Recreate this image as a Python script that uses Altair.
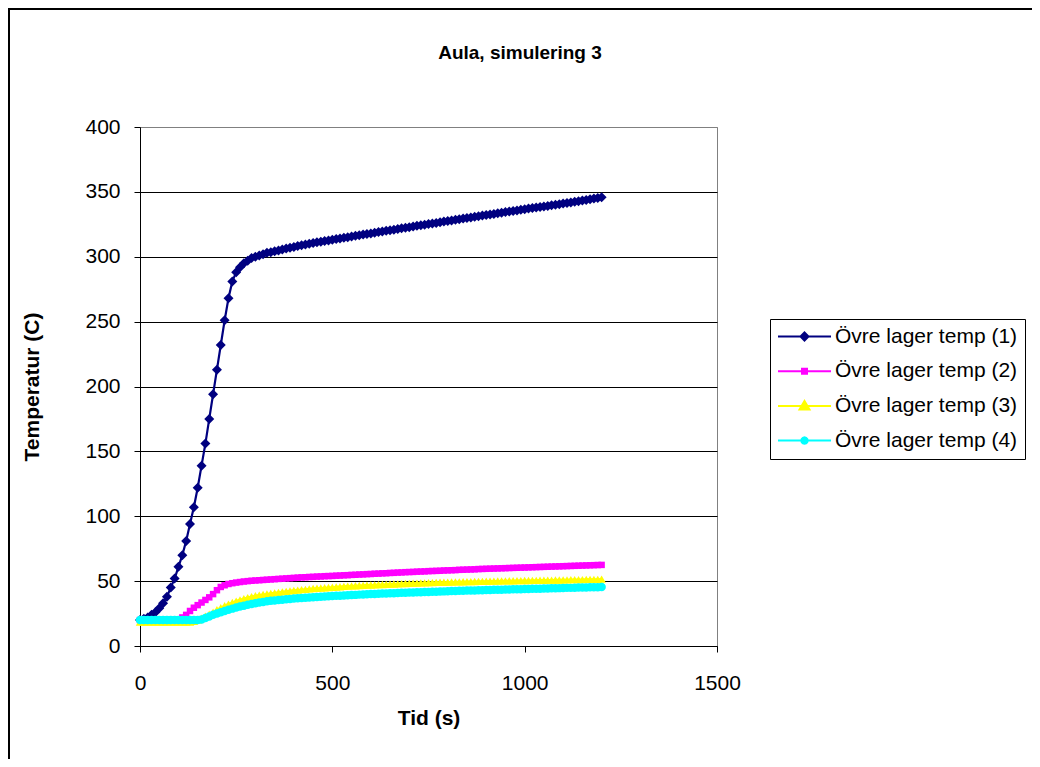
import math
import altair as alt
import pandas as pd

FONT = "Liberation Sans, Arial, Helvetica, sans-serif"

names = ["Övre lager temp (1)", "Övre lager temp (2)", "Övre lager temp (3)", "Övre lager temp (4)"]
colors = ["#000080", "#FF00FF", "#FFFF00", "#00FFFF"]
title_text = "Aula, simulering 3"

time_s = list(range(0, 1201, 10))

s1 = [20, 21, 22, 24, 26, 29, 33, 38, 45, 52,
      61, 70, 81, 94, 107, 122, 139, 156, 175, 194,
      213, 232, 251, 268, 281, 288, 292, 295, 297, 299,
      300, 301, 302, 303, 303.5, 304.2, 304.9, 305.6, 306.3, 307,
      307.6, 308.2, 308.8, 309.4, 310, 310.6, 311.1, 311.6, 312.1, 312.6,
      313.1, 313.6, 314.1, 314.6, 315.1, 315.6, 316.1, 316.6, 317.1, 317.5,
      318, 318.5, 319, 319.5, 320, 320.4, 320.9, 321.4, 321.9, 322.3,
      322.8, 323.3, 323.8, 324.2, 324.7, 325.2, 325.7, 326.1, 326.6, 327.1,
      327.5, 328, 328.5, 328.9, 329.4, 329.8, 330.3, 330.8, 331.2, 331.7,
      332.1, 332.6, 333, 333.5, 333.9, 334.4, 334.8, 335.3, 335.7, 336.2,
      336.6, 337.1, 337.5, 337.9, 338.4, 338.8, 339.2, 339.7, 340.1, 340.5,
      341, 341.4, 341.8, 342.3, 342.8, 343.3, 343.8, 344.3, 344.8, 345.3,
      345.8]

s2 = [20, 20, 20, 20, 20, 20, 20, 20, 20, 20,
      20.5, 22, 24, 27, 29.5, 31.5, 33.5, 35.5, 37.5, 40,
      43, 45.5, 46.8, 47.8, 48.4, 48.9, 49.3, 49.7, 50, 50.3,
      50.5, 50.7, 50.9, 51.1, 51.3, 51.5, 51.7, 51.9, 52.1, 52.3,
      52.5, 52.7, 52.9, 53, 53.2, 53.3, 53.5, 53.6, 53.8, 53.9,
      54, 54.2, 54.3, 54.5, 54.6, 54.8, 54.9, 55.1, 55.2, 55.4,
      55.5, 55.7, 55.8, 56, 56.1, 56.3, 56.4, 56.6, 56.7, 56.9,
      57, 57.1, 57.3, 57.4, 57.5, 57.7, 57.8, 57.9, 58, 58.2,
      58.3, 58.4, 58.5, 58.7, 58.8, 58.9, 59, 59.1, 59.3, 59.4,
      59.5, 59.6, 59.7, 59.8, 59.9, 60, 60.1, 60.2, 60.3, 60.4,
      60.5, 60.6, 60.7, 60.8, 60.9, 61, 61.1, 61.2, 61.3, 61.4,
      61.5, 61.6, 61.7, 61.8, 61.9, 62, 62.1, 62.2, 62.3, 62.4,
      62.5]

s3 = [18.5, 18.5, 18.5, 18.5, 18.5, 18.5, 18.5, 18.5, 18.5, 18.5,
      18.5, 18.5, 18.5, 18.5, 19, 20, 21.5, 23, 24.5, 26,
      28, 29.5, 31, 32.3, 33.5, 34.6, 35.6, 36.5, 37.3, 38,
      38.7, 39.2, 39.7, 40.1, 40.5, 40.9, 41.3, 41.7, 42.1, 42.5,
      42.8, 43.1, 43.4, 43.7, 44, 44.3, 44.5, 44.7, 44.9, 45.1,
      45.3, 45.5, 45.7, 45.9, 46.1, 46.3, 46.4, 46.6, 46.7, 46.9,
      47, 47.1, 47.3, 47.4, 47.5, 47.7, 47.8, 47.9, 48.1, 48.2,
      48.3, 48.4, 48.5, 48.6, 48.7, 48.8, 48.9, 49, 49.1, 49.1,
      49.2, 49.3, 49.4, 49.4, 49.5, 49.6, 49.6, 49.7, 49.8, 49.8,
      49.9, 50, 50, 50.1, 50.2, 50.2, 50.3, 50.3, 50.4, 50.4,
      50.5, 50.5, 50.6, 50.6, 50.7, 50.7, 50.8, 50.8, 50.9, 50.9,
      51, 51, 51.1, 51.1, 51.2, 51.2, 51.3, 51.3, 51.4, 51.4,
      51.5]

s4 = [20, 20, 20, 20, 20, 20, 20, 20, 20, 20,
      20, 20, 20, 20, 20, 20, 20.5, 21.5, 22.8, 24,
      25, 26, 27, 28, 28.8, 29.6, 30.4, 31.1, 31.8, 32.4,
      33, 33.5, 34, 34.4, 34.8, 35.1, 35.4, 35.7, 36, 36.3,
      36.6, 36.8, 37, 37.2, 37.4, 37.6, 37.8, 38, 38.2, 38.4,
      38.5, 38.7, 38.8, 39, 39.1, 39.3, 39.4, 39.6, 39.7, 39.9,
      40, 40.1, 40.2, 40.4, 40.5, 40.6, 40.7, 40.8, 41, 41.1,
      41.2, 41.3, 41.4, 41.5, 41.6, 41.7, 41.8, 41.9, 42, 42.1,
      42.2, 42.3, 42.4, 42.5, 42.6, 42.7, 42.7, 42.8, 42.9, 43,
      43.1, 43.2, 43.3, 43.3, 43.4, 43.5, 43.6, 43.7, 43.7, 43.8,
      43.9, 44, 44.1, 44.1, 44.2, 44.3, 44.4, 44.5, 44.5, 44.6,
      44.7, 44.8, 44.8, 44.9, 45, 45, 45.1, 45.2, 45.2, 45.3,
      45.4]

x_ticks = [0, 500, 1000, 1500]
y_ticks = [0, 50, 100, 150, 200, 250, 300, 350, 400]

series = [s1, s2, s3, s4]
rows = []
for name, vals in zip(names, series):
    for t, v in zip(time_s, vals):
        rows.append({"t": t, "temp": v, "serie": name})
df = pd.DataFrame(rows)

W, H = 577, 519

x_enc = alt.X("t:Q", scale=alt.Scale(domain=[0, 1500], nice=False, zero=False),
              axis=alt.Axis(values=x_ticks, title="Tid (s)", grid=False, format="d",
                            labelFlush=False, labelOverlap=False,
                            labelPadding=20, titlePadding=14, tickSize=6))
y_enc = alt.Y("temp:Q", scale=alt.Scale(domain=[0, 400], nice=False),
              axis=alt.Axis(values=y_ticks, title="Temperatur (C)", grid=True, format="d",
                            labelFlush=False, labelOverlap=False,
                            gridColor={"condition": {"test": "datum.value === 400", "value": "#808080"},
                                       "value": "#000000"},
                            labelPadding=14, titlePadding=42, tickSize=6))

# series lines (stroke channel, no legend)
lines = alt.Chart(df).mark_line(strokeWidth=2.2).encode(
    x=x_enc, y=y_enc,
    stroke=alt.Stroke("serie:N", scale=alt.Scale(domain=names, range=colors), legend=None),
)

shapes = ["diamond", "square", "triangle-up", "circle"]
sizes = [100, 42, 72, 72]
point_layers = []
for name, col, sh, sz in zip(names, colors, shapes, sizes):
    point_layers.append(
        alt.Chart(df).transform_filter(alt.datum.serie == name)
        .mark_point(filled=True, shape=sh, size=sz, color=col, opacity=1)
        .encode(x=x_enc, y=y_enc)
    )

# legend symbols: a line with a marker (custom paths, unit = sqrt(size)/2 px)
LEG_SIZE = 2809
k = math.sqrt(LEG_SIZE) / 2.0


def poly(pts):
    return "M" + "L".join(f"{px / k:.4f},{py / k:.4f}" for px, py in pts) + "Z"


def scaled(pts, f):
    return [(px * f, py * f) for px, py in pts]


line_p = "M-1,0H1"
diamond = [(0, -4), (4, 0), (0, 4), (-4, 0)]
square = [(-2.5, -2.5), (2.5, -2.5), (2.5, 2.5), (-2.5, 2.5)]
tri = [(0, -5), (5, 3.5), (-5, 3.5)]
circ = [(3.2 * math.cos(a * math.pi / 6), 3.2 * math.sin(a * math.pi / 6)) for a in range(12)]

paths = [
    line_p + poly(diamond) + poly(scaled(diamond, 0.45)),
    line_p + poly(square) + poly(scaled(square, 0.3)),
    line_p + poly(tri) + poly(scaled(tri, 0.65)) + poly(scaled(tri, 0.3)),
    line_p + poly(circ) + poly(scaled(circ, 0.4)),
]

leg = alt.Legend(
    title=None, orient="none", legendX=630, legendY=192,
    strokeColor="#000000", fillColor="#FFFFFF", padding=7, cornerRadius=0,
    symbolSize=LEG_SIZE, symbolStrokeWidth=2, symbolOpacity=1, clipHeight=21,
    labelFont=FONT, labelFontSize=21, labelColor="#000000", labelOffset=3,
    rowPadding=12.7, labelLimit=400,
)

# invisible layer that only provides the legend (line + marker symbols)
legend_layer = alt.Chart(df).mark_point(filled=False, opacity=0).encode(
    x=x_enc, y=y_enc,
    color=alt.Color("serie:N", scale=alt.Scale(domain=names, range=colors), legend=leg),
    shape=alt.Shape("serie:N", scale=alt.Scale(domain=names, range=paths), legend=leg),
)

one = pd.DataFrame({"k": [0]})
border_left = alt.Chart(one).mark_rule(color="#000000", strokeWidth=2).encode(
    x=alt.value(-131), y=alt.value(-118), y2=alt.value(700))
border_top = alt.Chart(one).mark_rule(color="#000000", strokeWidth=2).encode(
    x=alt.value(-132), x2=alt.value(950), y=alt.value(-118))
title_mark = alt.Chart(one).mark_text(
    text=title_text, font=FONT, fontSize=19, fontWeight="bold", color="#000000",
    align="center", baseline="middle",
).encode(x=alt.value(380), y=alt.value(-74))

chart = alt.layer(
    legend_layer, lines, *point_layers, border_left, border_top, title_mark
).properties(
    width=W, height=H,
    autosize=alt.AutoSizeParams(type="none"),
    padding={"left": 132, "top": 119, "right": 315, "bottom": 113},
).configure(
    background="#FFFFFF",
).configure_view(
    stroke="#808080", strokeWidth=1, fill="#FFFFFF",
).configure_axis(
    labelFont=FONT, labelFontSize=21, labelColor="#000000",
    titleFont=FONT, titleFontSize=21, titleFontWeight="bold", titleColor="#000000",
    domainColor="#000000", domainWidth=1, tickColor="#000000", tickWidth=1,
    gridWidth=1,
)

chart.save("out.html", embed_options={"renderer": "svg", "actions": False})
